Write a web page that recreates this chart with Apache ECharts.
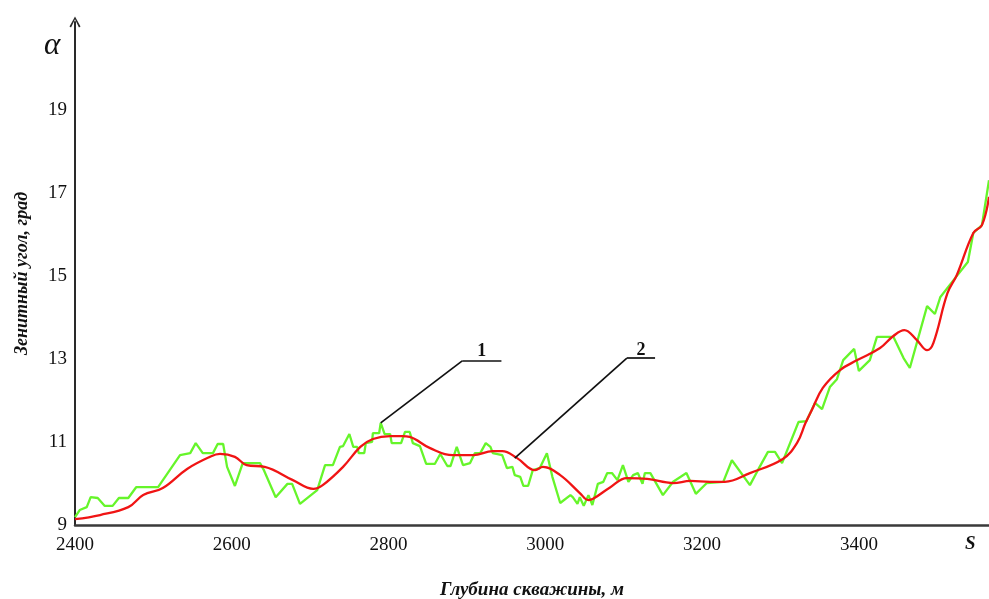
<!DOCTYPE html>
<html>
<head>
<meta charset="utf-8">
<script src="https://cdn.jsdelivr.net/npm/echarts@6/dist/echarts.min.js"></script>
<style>
  html, body { margin: 0; padding: 0; background: #fff; }
  #chart { width: 989px; height: 599px; }
</style>
</head>
<body>
<div id="chart"></div>
<script>
// curve 1 - measured zenith angle (green)
var depthRaw = [2400, 2406, 2415, 2420, 2429, 2438, 2448, 2456, 2468, 2478, 2506, 2534, 2547, 2554, 2563, 2576, 2582, 2589, 2594, 2604,
  2614, 2636, 2641, 2656, 2671, 2677, 2687, 2709, 2719, 2729, 2738, 2742, 2750, 2755, 2760, 2762, 2769, 2771, 2779, 2780,
  2788, 2790, 2795, 2802, 2804, 2816, 2821, 2827, 2831, 2840, 2848, 2859, 2866, 2875, 2879, 2887, 2895, 2904, 2910, 2917,
  2924, 2930, 2933, 2945, 2951, 2958, 2961, 2968, 2972, 2978, 2984, 2993, 3002, 3009, 3019, 3032, 3035, 3041, 3044, 3049,
  3055, 3060, 3067, 3074, 3079, 3085, 3092, 3099, 3106, 3112, 3118, 3124, 3127, 3134, 3150, 3163, 3180, 3192, 3206, 3227,
  3238, 3261, 3272, 3284, 3293, 3302, 3323, 3333, 3344, 3353, 3363, 3372, 3380, 3394, 3400, 3414, 3423, 3444, 3457, 3459,
  3465, 3487, 3497, 3504, 3523, 3539, 3546, 3557, 3566];
var angleRaw = [9.19, 9.36, 9.43, 9.67, 9.65, 9.46, 9.46, 9.65, 9.65, 9.91, 9.91, 10.68, 10.73, 10.97, 10.73, 10.73, 10.95, 10.95, 10.40, 9.94,
  10.49, 10.49, 10.32, 9.67, 9.99, 9.99, 9.51, 9.84, 10.44, 10.44, 10.88, 10.90, 11.19, 10.88, 10.88, 10.73, 10.73, 10.97, 11.00, 11.21,
  11.21, 11.46, 11.19, 11.19, 10.97, 10.97, 11.24, 11.24, 10.97, 10.90, 10.47, 10.47, 10.71, 10.42, 10.42, 10.88, 10.44, 10.49, 10.73, 10.73,
  10.97, 10.88, 10.73, 10.68, 10.37, 10.40, 10.20, 10.16, 9.94, 9.94, 10.32, 10.37, 10.73, 10.16, 9.53, 9.72, 9.67, 9.51, 9.67, 9.46,
  9.72, 9.48, 9.99, 10.04, 10.25, 10.25, 10.08, 10.44, 10.04, 10.20, 10.25, 9.99, 10.25, 10.25, 9.72, 10.04, 10.25, 9.75, 10.01, 10.04,
  10.56, 9.96, 10.35, 10.76, 10.76, 10.49, 11.48, 11.50, 11.94, 11.79, 12.32, 12.51, 12.97, 13.24, 12.71, 12.97, 13.53, 13.53, 13.02, 13.02,
  12.78, 14.27, 14.08, 14.49, 14.95, 15.33, 16.03, 16.22, 17.30];

// curve 2 - smoothed (red)
var depthSmooth = [2400, 2432, 2468, 2487, 2512, 2543, 2572, 2585, 2604, 2619, 2642, 2678, 2704, 2716, 2742, 2764, 2780, 2802, 2817, 2827,
  2853, 2882, 2908, 2933, 2945, 2964, 2987, 2997, 3019, 3044, 3055, 3061, 3083, 3104, 3130, 3163, 3185, 3210, 3229, 3261,
  3303, 3321, 3332, 3340, 3354, 3376, 3398, 3427, 3444, 3458, 3474, 3487, 3495, 3513, 3525, 3546, 3557, 3566];
var angleSmooth = [9.14, 9.24, 9.43, 9.72, 9.89, 10.35, 10.64, 10.71, 10.64, 10.44, 10.40, 10.08, 9.87, 9.96, 10.40, 10.88, 11.07, 11.14, 11.14, 11.12,
  10.85, 10.68, 10.68, 10.78, 10.78, 10.61, 10.32, 10.40, 10.20, 9.77, 9.60, 9.63, 9.91, 10.13, 10.11, 10.01, 10.06, 10.04, 10.04, 10.25,
  10.59, 10.97, 11.46, 11.77, 12.30, 12.73, 12.97, 13.26, 13.55, 13.69, 13.45, 13.21, 13.38, 14.58, 15.02, 16.03, 16.22, 16.90];

// leader lines: tip, elbow, end (depth, angle) and the label
var leaderNames = ['1', '2'];
var leaderTip = [[2790, 11.46], [2961, 10.61]];
var leaderElbow = [[2894, 12.95], [3104, 13.02]];
var leaderEnd = [[2944, 12.95], [3140, 13.02]];
var leaderText = [[2919, 13.18], [3122, 13.21]];

function zip(a, b) {
  var out = [];
  for (var i = 0; i < a.length; i++) out.push([a[i], b[i]]);
  return out;
}

var leaderLines = [];
var leaderLabels = [];
for (var i = 0; i < leaderNames.length; i++) {
  leaderLines.push([{ coord: leaderTip[i] }, { coord: leaderElbow[i] }]);
  leaderLines.push([{ coord: leaderElbow[i] }, { coord: leaderEnd[i] }]);
  leaderLabels.push({ coord: leaderText[i], value: leaderNames[i] });
}

var serif = '"Liberation Serif", "DejaVu Serif", serif';
var chart = echarts.init(document.getElementById('chart'));

var option = {
  animation: false,
  backgroundColor: '#fff',
  grid: { left: 75, right: 0, top: 22, bottom: 74, outerBoundsMode: 'none' },
  xAxis: {
    type: 'value',
    min: 2400,
    max: 3566,
    interval: 200,
    name: 'Глубина скважины, м',
    nameLocation: 'middle',
    nameGap: 56,
    nameTextStyle: { fontFamily: serif, fontSize: 19, fontWeight: 'bold', fontStyle: 'italic', color: '#111' },
    axisLine: { lineStyle: { color: '#3a3a3a', width: 2.5 } },
    axisTick: { show: false },
    splitLine: { show: false },
    axisLabel: {
      margin: 11,
      fontFamily: serif, fontSize: 19, color: '#111',
      formatter: function (v) { return v % 200 === 0 && v <= 3400 ? String(v) : ''; }
    }
  },
  yAxis: {
    type: 'value',
    min: 9,
    max: 21.11,
    interval: 2,
    name: 'Зенитный угол, град',
    nameLocation: 'middle',
    nameRotate: 90,
    nameGap: 44,
    nameTextStyle: { fontFamily: serif, fontSize: 18, fontWeight: 'bold', fontStyle: 'italic', color: '#111' },
    axisLine: {
      lineStyle: { color: '#2a2a2a', width: 2 },
      symbol: ['none', 'path://M5,0 L10,9 L8.6,10 L5,2.6 L1.4,10 L0,9 Z'],
      symbolSize: [11, 14],
      symbolOffset: [0, 0]
    },
    axisTick: { show: false },
    splitLine: { show: false },
    axisLabel: {
      margin: 8,
      fontFamily: serif, fontSize: 19, color: '#111',
      formatter: function (v) { return v <= 19 && (v - 9) % 2 === 0 ? String(v) : ''; }
    }
  },
  graphic: [
    { type: 'text', left: 44, top: 30, style: { text: 'α', font: 'italic 31px ' + serif, fill: '#111' } },
    { type: 'text', left: 965, top: 535, style: { text: 'S', font: 'italic bold 19px ' + serif, fill: '#111' } }
  ],
  series: [
    {
      name: '1',
      type: 'line',
      data: zip(depthRaw, angleRaw),
      showSymbol: false,
      smooth: false,
      z: 2,
      lineStyle: { color: '#66f52a', width: 2.3 },
      markLine: {
        silent: true,
        symbol: ['none', 'none'],
        label: { show: false },
        lineStyle: { color: '#111', width: 1.7, type: 'solid' },
        data: leaderLines
      },
      markPoint: {
        silent: true,
        symbol: 'circle',
        symbolSize: 0,
        label: {
          show: true,
          position: 'inside',
          formatter: function (p) { return p.value; },
          fontFamily: serif, fontSize: 18, fontWeight: 'bold', color: '#111'
        },
        data: leaderLabels
      }
    },
    {
      name: '2',
      type: 'line',
      data: zip(depthSmooth, angleSmooth),
      showSymbol: false,
      smooth: 0.4,
      z: 3,
      lineStyle: { color: '#f01414', width: 2.3 }
    }
  ]
};

chart.setOption(option);
</script>
</body>
</html>
